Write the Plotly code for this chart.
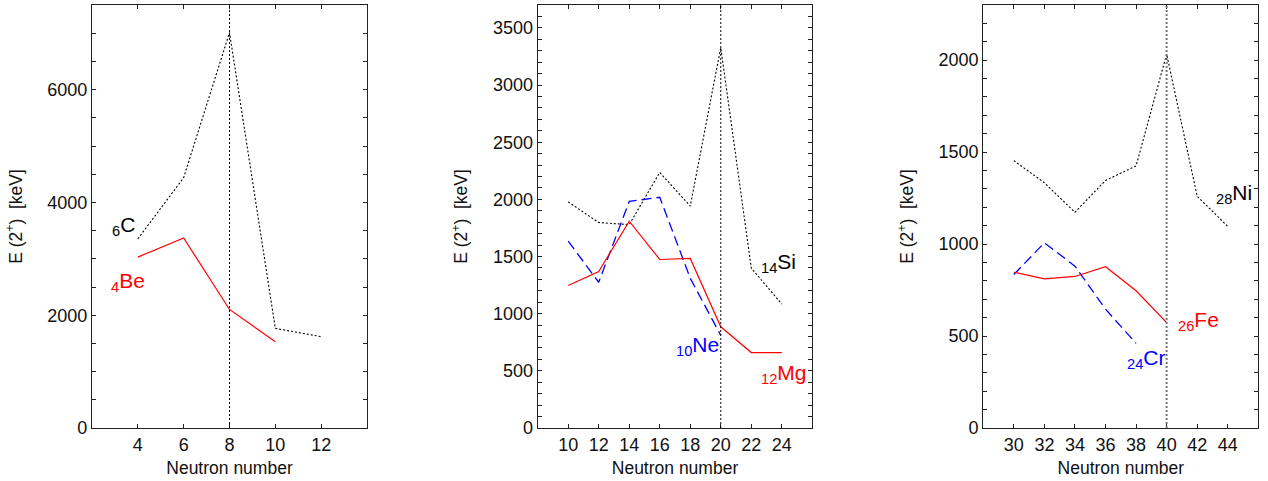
import plotly.graph_objects as go

# ---------------- data ----------------
# Panel 1 (light nuclei)
n_c = [4, 6, 8, 10, 12]
e_c = [3354, 4439, 7012, 1766, 1620]
n_be = [4, 6, 8, 10]
e_be = [3030, 3368, 2102, 1530]

# Panel 2 (sd shell)
n_si = [10, 12, 14, 16, 18, 20, 22, 24]
e_si = [1978, 1797, 1779, 2235, 1941, 3328, 1399, 1084]
n_ne = [10, 12, 14, 16, 18, 20]
e_ne = [1634, 1275, 1982, 2018, 1310, 810]
n_mg = [10, 12, 14, 16, 18, 20, 22, 24]
e_mg = [1247, 1369, 1809, 1474, 1483, 885, 660, 660]

# Panel 3 (fp shell)
n_ni = [30, 32, 34, 36, 38, 40, 42, 44]
e_ni = [1454, 1333, 1173, 1346, 1425, 2033, 1260, 1096]
n_cr = [30, 32, 34, 36, 38]
e_cr = [835, 1007, 880, 646, 460]
n_fe = [30, 32, 34, 36, 38, 40]
e_fe = [847, 811, 824, 877, 746, 573]

magic = [8, 20, 40]

x_ticks = [[4, 6, 8, 10, 12],
           [10, 12, 14, 16, 18, 20, 22, 24],
           [30, 32, 34, 36, 38, 40, 42, 44]]
y_ticks = [[0, 2000, 4000, 6000],
           [0, 500, 1000, 1500, 2000, 2500, 3000, 3500],
           [0, 500, 1000, 1500, 2000]]
x_ranges = [[2, 14], [8, 26], [28, 46]]
y_ranges = [[0, 7500], [0, 3700], [0, 2300]]
y_minor = [500, 100, 100]

# ---------------- figure ----------------
FONT = "Liberation Sans, Arial, sans-serif"
BLACK = "#000000"
RED = "#ff0000"
BLUE = "#0000ff"

fig = go.Figure()

def line(x, y, color, dash, width, ax):
    fig.add_trace(go.Scatter(x=x, y=y, mode="lines",
                             line=dict(color=color, dash=dash, width=width),
                             xaxis="x" + ax, yaxis="y" + ax,
                             showlegend=False, hoverinfo="skip"))

DOT = "2px,2px"
DASH = "10px,5px"
line(n_c, e_c, BLACK, DOT, 1.1, "")
line(n_be, e_be, RED, "solid", 1.2, "")
line(n_si, e_si, BLACK, DOT, 1.1, "2")
line(n_ne, e_ne, BLUE, DASH, 1.3, "2")
line(n_mg, e_mg, RED, "solid", 1.2, "2")
line(n_ni, e_ni, BLACK, DOT, 1.1, "3")
line(n_cr, e_cr, BLUE, DASH, 1.3, "3")
line(n_fe, e_fe, RED, "solid", 1.2, "3")

domains = [[92 / 1268, 367 / 1268],
           [537.7 / 1268, 812.3 / 1268],
           [983.3 / 1268, 1258.3 / 1268]]

layout = {}
for i in range(3):
    s = "" if i == 0 else str(i + 1)
    layout["xaxis" + s] = dict(
        domain=domains[i], range=x_ranges[i], anchor="y" + s,
        tickmode="array", tickvals=x_ticks[i],
        ticks="inside", ticklen=4, tickwidth=1, tickcolor="#222",
        mirror="ticks", showline=True, linecolor="#222", linewidth=1.2,
        showgrid=False, zeroline=False,
        tickfont=dict(family=FONT, size=18, color="#111"),
        title=dict(text="Neutron number", standoff=8,
                   font=dict(family=FONT, size=17.5, color="#111")),
    )
    layout["yaxis" + s] = dict(
        domain=[0, 1], range=y_ranges[i], anchor="x" + s,
        tickmode="array", tickvals=y_ticks[i],
        ticks="inside", ticklen=4, tickwidth=1, tickcolor="#222",
        mirror="ticks", showline=True, linecolor="#222", linewidth=1.2,
        showgrid=False, zeroline=False,
        minor=dict(dtick=y_minor[i], tick0=0, ticks="inside", ticklen=4,
                   tickwidth=1, tickcolor="#222", showgrid=False),
        tickfont=dict(family=FONT, size=18, color="#111"),
        title=dict(text="E (2<sup>+</sup>)&nbsp;&nbsp;[keV]", standoff=20,
                   font=dict(family=FONT, size=17.5, color="#111")),
    )

shapes = []
for i, m in enumerate(magic):
    s = "" if i == 0 else str(i + 1)
    col = "#777" if i == 2 else BLACK
    wid = 2 if i == 2 else 1
    shapes.append(dict(type="line", xref="x" + s, yref="y" + s + " domain",
                       x0=m, x1=m, y0=0, y1=1,
                       line=dict(color=col, width=wid, dash="2px,2px")))

def lab(text, x, y, color, ax, xanchor):
    return dict(text=text, x=x, y=y, xref="x" + ax, yref="y" + ax,
                xanchor=xanchor, yanchor="middle", showarrow=False,
                font=dict(family=FONT, size=21, color=color))

annotations = [
    lab("<sub>6</sub>C", 3.95, 3575, BLACK, "", "right"),
    lab("<sub>4</sub>Be", 4.39, 2590, RED, "", "right"),
    lab("<sub>14</sub>Si", 22.5, 1445, BLACK, "2", "left"),
    lab("<sub>10</sub>Ne", 16.95, 717, BLUE, "2", "left"),
    lab("<sub>12</sub>Mg", 22.5, 472, RED, "2", "left"),
    lab("<sub>28</sub>Ni", 43.1, 1272, BLACK, "3", "left"),
    lab("<sub>26</sub>Fe", 40.6, 581, RED, "3", "left"),
    lab("<sub>24</sub>Cr", 37.3, 375, BLUE, "3", "left"),
]

fig.update_layout(
    width=1268, height=481,
    margin=dict(l=0, r=0, t=5, b=53),
    paper_bgcolor="white", plot_bgcolor="white",
    shapes=shapes, annotations=annotations,
    **layout,
)

fig.write_html("out.html",
               config={"displayModeBar": False},
               post_script="document.body.style.margin='0';"
                           "document.body.style.padding='0';")
